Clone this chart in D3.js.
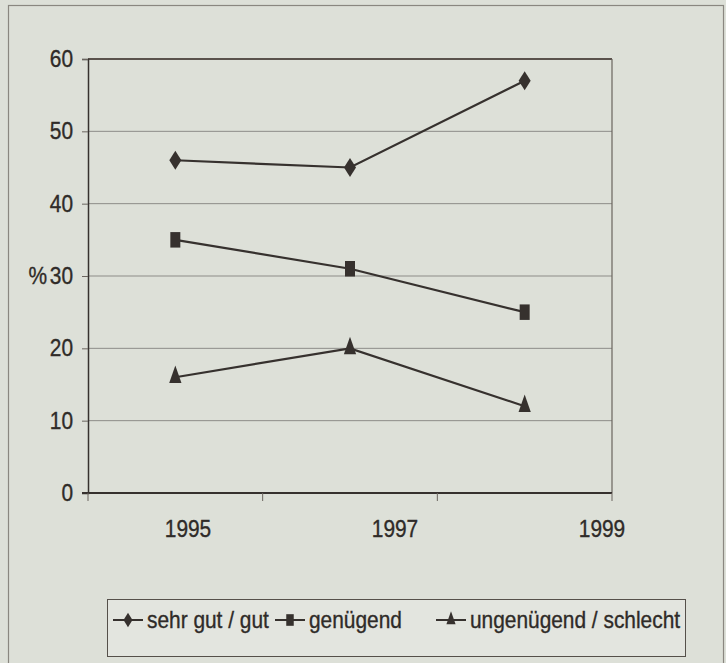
<!DOCTYPE html>
<html>
<head>
<meta charset="utf-8">
<script src="https://cdn.jsdelivr.net/npm/d3@7"></script>
<style>
    body { margin: 0; background: #dde0d8; }
    text { font-family: "Liberation Sans", Arimo, Arial, sans-serif; fill: #2f2b28; stroke: #2f2b28; stroke-width: 0.35px; }
</style>
</head>
<body>
<div id="chart"></div>
<script>
// chart data
var years = ["1995", "1997", "1999"];
var seriesNames = ["sehr gut / gut", "genügend", "ungenügend / schlecht"];
var sehrGut = [46, 45, 57];
var genuegend = [35, 31, 25];
var ungenuegend = [16, 20, 12];
var yTicks = [0, 10, 20, 30, 40, 50, 60];

var width = 726,
    height = 663;
var plot = { left: 88, right: 612, top: 59, bottom: 493 };
var ink = "#36312e";
var fontSize = 24;
var squeeze = 0.87; // the original uses a condensed face

// text squeezed horizontally, anchored at (x, y)
function narrowText(parent, x, y, str, anchor) {
    return parent.append("text")
        .attr("transform", "translate(" + x + "," + y + ")scale(" + squeeze + ",1)")
        .attr("text-anchor", anchor || "start")
        .attr("font-size", fontSize)
        .text(str);
}

var svg = d3.select("#chart")
    .append("svg")
    .attr("width", width)
    .attr("height", height);

svg.append("rect")
    .attr("width", width)
    .attr("height", height)
    .attr("fill", "#dde0d8");

// outer frame of the figure
svg.append("rect")
    .attr("x", 8.5)
    .attr("y", 5.5)
    .attr("width", 715)
    .attr("height", 670)
    .attr("fill", "none")
    .attr("stroke", "#8a8780")
    .attr("stroke-width", 1.2);

var xScale = d3.scaleBand()
    .domain(years)
    .range([plot.left, plot.right]);
var labelScale = d3.scalePoint()
    .domain(years)
    .range([188, 602]);
var yScale = d3.scaleLinear()
    .domain([0, 60])
    .range([plot.bottom, plot.top]);

// gridlines
svg.append("g")
    .selectAll("line")
    .data(yTicks.filter(d => d > 0 && d < 60))
    .enter()
    .append("line")
    .attr("x1", plot.left)
    .attr("x2", plot.right)
    .attr("y1", d => yScale(d))
    .attr("y2", d => yScale(d))
    .attr("stroke", "#8d8c88")
    .attr("stroke-width", 1);

// plot border
svg.append("line")
    .attr("x1", plot.left).attr("x2", plot.right)
    .attr("y1", yScale(60)).attr("y2", yScale(60))
    .attr("stroke", "#5a524c").attr("stroke-width", 2);
svg.append("line")
    .attr("x1", plot.right).attr("x2", plot.right)
    .attr("y1", yScale(60)).attr("y2", yScale(0))
    .attr("stroke", "#6a645e").attr("stroke-width", 1.2);

// y axis
var yAxis = svg.append("g")
    .attr("transform", "translate(" + plot.left + ",0)")
    .call(d3.axisLeft(yScale)
        .tickValues(yTicks)
        .tickSize(6)
        .tickFormat(""));
yAxis.select(".domain").attr("stroke", ink).attr("stroke-width", 1.5);
yAxis.selectAll(".tick line").attr("stroke", "#6a645e");

var yLabels = svg.append("g");
yTicks.forEach(t => {
    narrowText(yLabels, 73, yScale(t) + 8, String(t), "end");
});
narrowText(svg, 47, yScale(30) + 8, "%", "end");

// x axis: boundary ticks
svg.append("line")
    .attr("x1", plot.left - 6).attr("x2", plot.right)
    .attr("y1", yScale(0)).attr("y2", yScale(0))
    .attr("stroke", ink).attr("stroke-width", 2.2);
svg.append("g")
    .selectAll("line")
    .data([plot.left].concat(years.map(d => xScale(d) + xScale.bandwidth())))
    .enter()
    .append("line")
    .attr("x1", d => d)
    .attr("x2", d => d)
    .attr("y1", yScale(0))
    .attr("y2", yScale(0) + 8)
    .attr("stroke", "#6a645e");

var xLabels = svg.append("g");
years.forEach(y => {
    narrowText(xLabels, labelScale(y), 537, y, "middle");
});

// series markers: tall diamond, tall square, tall triangle
var symbols = [
    d3.symbol().type(d3.symbolDiamond).size(95),
    d3.symbol().type(d3.symbolSquare).size(100),
    d3.symbol().type(d3.symbolTriangle).size(90)
];
var symbolScale = [[1.15, 1.05], [1.0, 1.55], [0.85, 1.4]];
var allSeries = [sehrGut, genuegend, ungenuegend];

var line = d3.line()
    .x((d, i) => xScale(years[i]) + xScale.bandwidth() / 2)
    .y(d => yScale(d));

allSeries.forEach((values, s) => {
    svg.append("path")
        .datum(values)
        .attr("d", line)
        .attr("fill", "none")
        .attr("stroke", ink)
        .attr("stroke-width", 2.2);
    svg.append("g")
        .selectAll("path")
        .data(values)
        .enter()
        .append("path")
        .attr("d", symbols[s])
        .attr("transform", (d, i) => "translate(" + (xScale(years[i]) + xScale.bandwidth() / 2) + "," + yScale(d) + ")scale(" + symbolScale[s].join(",") + ")")
        .attr("fill", ink);
});

// legend
var legend = svg.append("g");
legend.append("rect")
    .attr("x", 107.5)
    .attr("y", 599.5)
    .attr("width", 578)
    .attr("height", 57)
    .attr("fill", "#e3e5df")
    .attr("stroke", "#55504a")
    .attr("stroke-width", 1);

var legendX = [113, 275, 436];
seriesNames.forEach((name, s) => {
    var g = legend.append("g")
        .attr("transform", "translate(" + legendX[s] + ",620)");
    g.append("line")
        .attr("x1", 0).attr("x2", 30)
        .attr("stroke", ink).attr("stroke-width", 2);
    g.append("path")
        .attr("d", symbols[s])
        .attr("transform", "translate(15,0)scale(" + symbolScale[s].map(v => v * 0.75).join(",") + ")")
        .attr("fill", ink);
    narrowText(g, 34, 8, name);
});
</script>
</body>
</html>
